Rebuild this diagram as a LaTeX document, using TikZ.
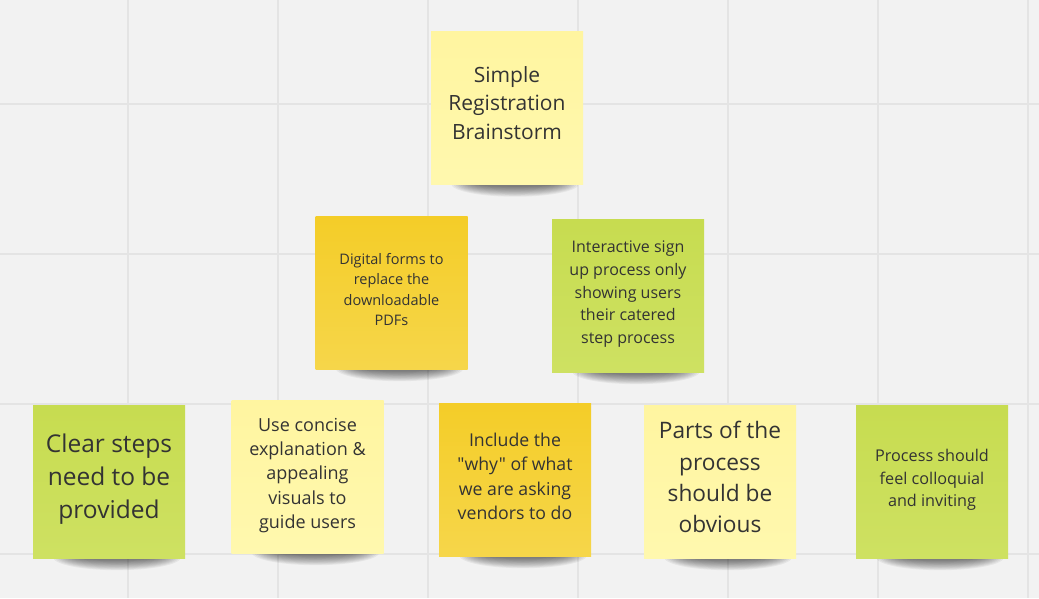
\documentclass[tikz,border=0pt]{standalone}
\usepackage{fontspec}
\setmainfont{Open Sans}
\newfontfamily\plainos{Open Sans}
\definecolor{bgc}{HTML}{F2F2F2}
\definecolor{gridc}{HTML}{E4E4E4}
\definecolor{lyTop}{HTML}{FFF5A0}
\definecolor{lyBot}{HTML}{FFF8AE}
\definecolor{dyTop}{HTML}{F4CD28}
\definecolor{dyBot}{HTML}{F6D64A}
\definecolor{grTop}{HTML}{C7DC50}
\definecolor{grBot}{HTML}{CEE162}
\definecolor{txt}{HTML}{333333}
\pgfdeclarelayer{gridlayer}
\pgfdeclarelayer{shadowlayer}
\pgfsetlayers{gridlayer,shadowlayer,main}
\tikzset{
  note/.style={minimum width=152pt, minimum height=153pt, inner sep=0pt,
    align=center, text=txt, anchor=center},
  lightnote/.style={note, top color=lyTop, bottom color=lyBot},
  darknote/.style={note, top color=dyTop, bottom color=dyBot},
  greennote/.style={note, top color=grTop, bottom color=grBot},
  gridline/.style={draw=gridc, line width=1.4pt},
  shadowpiece/.style={fill=black, opacity=0.05}
}
\newcommand\notesh[1]{%
  \foreach \i in {0,...,11}{%
    \fill[shadowpiece] ([xshift=8pt,yshift=1pt]#1.south) ellipse [x radius={64pt-2.2*\i pt}, y radius={13pt-0.9*\i pt}];
  }}
\newcommand\notetext[2]{\raisebox{#1}[\height][\depth]{\begin{tabular}{@{}c@{}}#2\end{tabular}}}
\begin{document}
\begin{tikzpicture}[x=1pt,y=-1pt]
\useasboundingbox (0,0) rectangle (1039,598);
\begin{pgfonlayer}{gridlayer}
\fill[bgc] (0,0) rectangle (1039,598);
\foreach \gx in {128,278,428,578,728,878,1028} \draw[gridline] (\gx,0) -- (\gx,598);
\foreach \gy in {104,254,404,554} \draw[gridline] (0,\gy) -- (1039,\gy);
\end{pgfonlayer}

\node[lightnote, font=\plainos\fontsize{21}{28.5}\selectfont] (title) at (507,108)
  {\notetext{3pt}{Simple\\Registration\\Brainstorm}};
\node[darknote, font=\plainos\fontsize{14.5}{20.5}\selectfont] (digital) at (391.5,292.5)
  {\notetext{1.5pt}{Digital forms to\\replace the\\downloadable\\PDFs}};
\node[greennote, font=\plainos\fontsize{16}{22.7}\selectfont] (interactive) at (628,295.5)
  {\notetext{2pt}{Interactive sign\\up process only\\showing users\\their catered\\step process}};
\node[greennote, font=\plainos\fontsize{24.5}{33}\selectfont] (clear) at (109,481.5)
  {\notetext{3pt}{Clear steps\\need to be\\provided}};
\node[lightnote, font=\plainos\fontsize{18}{24.3}\selectfont] (concise) at (307.5,476.5)
  {\notetext{1.5pt}{Use concise\\explanation \&\\appealing\\visuals to\\guide users}};
\node[darknote, font=\plainos\fontsize{17.7}{24.3}\selectfont] (include) at (515,479.5)
  {\notetext{1.5pt}{Include the\\"why" of what\\we are asking\\vendors to do}};
\node[lightnote, font=\plainos\fontsize{22.7}{31.3}\selectfont] (parts) at (720,481.5)
  {\notetext{2pt}{Parts of the\\process\\should be\\obvious}};
\node[greennote, font=\plainos\fontsize{16.2}{22.5}\selectfont] (process) at (932,481.5)
  {\notetext{2pt}{Process should\\feel colloquial\\and inviting}};

\begin{pgfonlayer}{shadowlayer}
\foreach \n in {title,digital,interactive,clear,concise,include,parts,process} {\notesh{\n}}
\end{pgfonlayer}
\end{tikzpicture}
\end{document}
